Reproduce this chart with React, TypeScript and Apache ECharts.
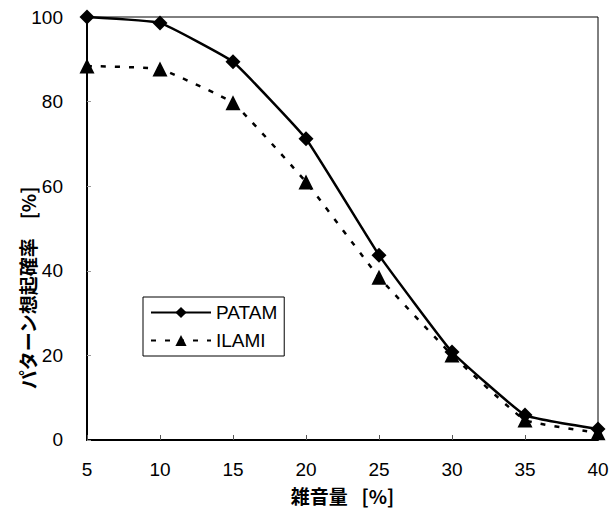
import React, { useEffect, useRef } from "react";
import * as echarts from "echarts";

const xValues = [5, 10, 15, 20, 25, 30, 35, 40];
const patam = [100, 98.6, 89.4, 71.2, 43.7, 20.8, 5.9, 2.6];
const ilami = [88.4, 87.7, 79.7, 61.0, 38.5, 20.1, 4.7, 1.7];
const seriesNames = ["PATAM", "ILAMI"];
const xTitle = "雑音量 \u2002[%]";
const yTitle = "パターン想起確率　[%]";

export default function App() {
  const ref = useRef<HTMLDivElement>(null);
  useEffect(() => {
    if (!ref.current) return;
    const chart = echarts.init(ref.current, null, { renderer: "svg" });
    const font = "'Liberation Sans', Arial, 'Noto Sans CJK JP', sans-serif";
    const jp = "'Noto Sans CJK JP', sans-serif";
    chart.setOption({
      animation: false,
      backgroundColor: "#fff",
      textStyle: { fontFamily: font },
      grid: {
        left: 87,
        top: 17,
        right: 18,
        bottom: 70,
        show: true,
        borderColor: "#000",
        borderWidth: 1,
        backgroundColor: "transparent",
      },
      graphic: [
        {
          type: "text",
          x: 27,
          y: 288,
          rotation: Math.PI / 2,
          style: {
            text: yTitle,
            fontSize: 19,
            fontWeight: "bold",
            fontFamily: jp,
            fill: "#000",
            align: "center",
            verticalAlign: "middle",
          },
        },
      ],
      legend: {
        orient: "vertical",
        left: 143,
        top: 297,
        padding: [6, 7, 6, 7],
        itemGap: 9,
        itemWidth: 60,
        itemHeight: 14,
        borderColor: "#000",
        borderWidth: 1,
        borderRadius: 0,
        backgroundColor: "#fff",
        textStyle: { fontSize: 19, color: "#000", fontFamily: font },
        data: seriesNames,
      },
      xAxis: {
        type: "value",
        min: 5,
        max: 40,
        interval: 5,
        name: xTitle,
        nameLocation: "middle",
        nameGap: 46,
        nameTextStyle: { fontSize: 19, color: "#000", fontWeight: "bold", fontFamily: jp },
        axisLine: { show: true, lineStyle: { color: "#000", width: 2 } },
        axisTick: { show: true, inside: true, length: 5, lineStyle: { color: "#555" } },
        axisLabel: { fontSize: 19, color: "#000", margin: 20, fontFamily: font },
        splitLine: { show: false },
      },
      yAxis: {
        type: "value",
        min: 0,
        max: 100,
        interval: 20,
        axisLine: { show: true, lineStyle: { color: "#000", width: 2 } },
        axisTick: { show: true, inside: true, length: 4, lineStyle: { color: "#999" } },
        axisLabel: { fontSize: 19, color: "#000", margin: 24, fontFamily: font },
        splitLine: { show: false },
      },
      series: [
        {
          name: seriesNames[0],
          type: "line",
          data: xValues.map((x, i) => [x, patam[i]]),
          smooth: 0.1,
          symbol: "diamond",
          symbolSize: 15,
          itemStyle: { color: "#000" },
          lineStyle: { color: "#000", width: 2.5, type: "solid" },
          z: 3,
        },
        {
          name: seriesNames[1],
          type: "line",
          data: xValues.map((x, i) => [x, ilami[i]]),
          smooth: 0.1,
          symbol: "triangle",
          symbolSize: 15,
          itemStyle: { color: "#000" },
          lineStyle: { color: "#000", width: 2.5, type: [5, 9] },
          z: 2,
        },
      ],
    });
    return () => chart.dispose();
  }, []);
  return (
    <div
      ref={ref}
      style={{ position: "fixed", left: 0, top: 0, width: 616, height: 510 }}
    />
  );
}
